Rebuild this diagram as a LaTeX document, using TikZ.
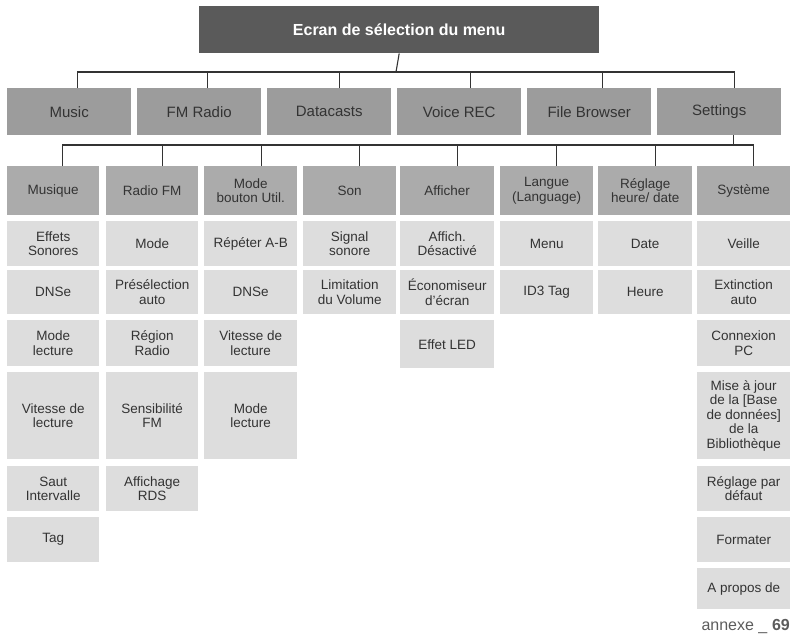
\documentclass[tikz,border=0pt]{standalone}
\usepackage{fontspec}
\setmainfont{Liberation Sans}
\definecolor{topc}{HTML}{5A5A5A}
\definecolor{lonec}{HTML}{9C9C9C}
\definecolor{ltwoc}{HTML}{ABABAB}
\definecolor{lthreec}{HTML}{DDDDDD}
\definecolor{txt}{HTML}{333333}
\newcommand\bx[7]{\node[#6, anchor=north west, minimum width={(#4-#2)*1pt}, minimum height={(#5-#3)*1pt}] (#1) at (#2,#3) {#7};}
\begin{document}
\begin{tikzpicture}[x=1pt,y=-1pt,
  base/.style={inner sep=0pt, align=center, text=txt, font=\fontsize{13.5}{14.5}\selectfont},
  topbox/.style={base, fill=topc, text=white, font=\fontsize{16}{18}\selectfont\bfseries},
  lone/.style={base, fill=lonec, font=\fontsize{15}{17}\selectfont},
  ltwo/.style={base, fill=ltwoc},
  lthree/.style={base, fill=lthreec},
  conn/.style={draw=txt, line width=1.1pt}]
\useasboundingbox (0,0) rectangle (793,640);
\bx{top}{199}{6}{599}{53}{topbox}{Ecran de sélection du menu}
\bx{m1}{7}{88}{131}{135}{lone}{Music}
\bx{m2}{137}{88}{261}{135}{lone}{FM Radio}
\bx{m3}{267}{88}{391}{135}{lone}{Datacasts}
\bx{m4}{397}{88}{521}{135}{lone}{Voice REC}
\bx{m5}{527}{88}{651}{135}{lone}{File Browser}
\bx{m6}{657}{88}{781}{135}{lone}{Settings}
\coordinate (busa) at (396,72);
\draw[conn] (top.south) -- (busa);
\draw[conn] ([xshift=8pt]m1.north) |- ([xshift=15pt]m6.north |- busa) -- ([xshift=15pt]m6.north);
\foreach \i/\s in {2/8,3/10,4/11,5/13}{\draw[conn] ([xshift=\s pt]m\i.north) -- ++(0,-16);}
% level 2
\bx{s1}{7}{166}{99}{215}{ltwo}{Musique}
\bx{s2}{106}{166}{198}{215}{ltwo}{Radio FM}
\bx{s3}{204}{166}{297}{215}{ltwo}{Mode\\bouton Util.}
\bx{s4}{303}{166}{396}{215}{ltwo}{Son}
\bx{s5}{400}{166}{494}{215}{ltwo}{Afficher}
\bx{s6}{500}{166}{593}{215}{ltwo}{Langue\\(Language)}
\bx{s7}{598}{166}{692}{215}{ltwo}{Réglage\\heure/ date}
\bx{s8}{697}{166}{790}{215}{ltwo}{Système}
\coordinate (busb) at (400,145);
\draw[conn] ([xshift=14pt]m6.south) -- ([xshift=14pt]m6.south |- busb);
\draw[conn] ([xshift=9pt]s1.north) |- ([xshift=10pt]s8.north |- busb) -- ([xshift=10pt]s8.north);
\foreach \i/\s in {2/10,3/11,4/10,5/10,6/10,7/10}{\draw[conn] ([xshift=\s pt]s\i.north) -- ++(0,-21);}
% level 3
\bx{a1}{7}{221}{99}{266}{lthree}{Effets\\Sonores}
\bx{a2}{7}{270}{99}{314}{lthree}{DNSe}
\bx{a3}{7}{320}{99}{366}{lthree}{Mode\\lecture}
\bx{a4}{7}{372}{99}{459}{lthree}{Vitesse de\\lecture}
\bx{a5}{7}{466}{99}{511}{lthree}{Saut\\Intervalle}
\bx{a6}{7}{517}{99}{562}{lthree}{Tag}
\bx{b1}{106}{221}{198}{266}{lthree}{Mode}
\bx{b2}{106}{270}{198}{314}{lthree}{Présélection\\auto}
\bx{b3}{106}{320}{198}{366}{lthree}{Région\\Radio}
\bx{b4}{106}{372}{198}{459}{lthree}{Sensibilité\\FM}
\bx{b5}{106}{466}{198}{511}{lthree}{Affichage\\RDS}
\bx{c1}{204}{221}{297}{266}{lthree}{Répéter A-B}
\bx{c2}{204}{270}{297}{314}{lthree}{DNSe}
\bx{c3}{204}{320}{297}{366}{lthree}{Vitesse de\\lecture}
\bx{c4}{204}{372}{297}{459}{lthree}{Mode\\lecture}
\bx{d1}{303}{221}{396}{266}{lthree}{Signal\\sonore}
\bx{d2}{303}{270}{396}{314}{lthree}{Limitation\\du Volume}
\bx{e1}{400}{221}{494}{266}{lthree}{Affich.\\Désactivé}
\bx{e2}{400}{270}{494}{314}{lthree}{Économiseur\\d'écran}
\bx{e3}{400}{320}{494}{368}{lthree}{Effet LED}
\bx{f1}{500}{221}{593}{266}{lthree}{Menu}
\bx{f2}{500}{270}{593}{314}{lthree}{ID3 Tag}
\bx{g1}{598}{221}{692}{266}{lthree}{Date}
\bx{g2}{598}{270}{692}{314}{lthree}{Heure}
\bx{h1}{697}{221}{790}{266}{lthree}{Veille}
\bx{h2}{697}{270}{790}{314}{lthree}{Extinction\\auto}
\bx{h3}{697}{320}{790}{366}{lthree}{Connexion\\PC}
\bx{h4}{697}{372}{790}{459}{lthree}{Mise à jour\\de la [Base\\de données]\\de la\\Bibliothèque}
\bx{h5}{697}{466}{790}{511}{lthree}{Réglage par\\défaut}
\bx{h6}{697}{517}{790}{562}{lthree}{Formater}
\bx{h7}{697}{568}{790}{609}{lthree}{A propos de}
\node[anchor=base east, inner sep=0pt, text=txt!80, font=\fontsize{16}{18}\selectfont] (foot) at (790,630) {annexe \_ \textbf{69}};
\end{tikzpicture}
\end{document}
